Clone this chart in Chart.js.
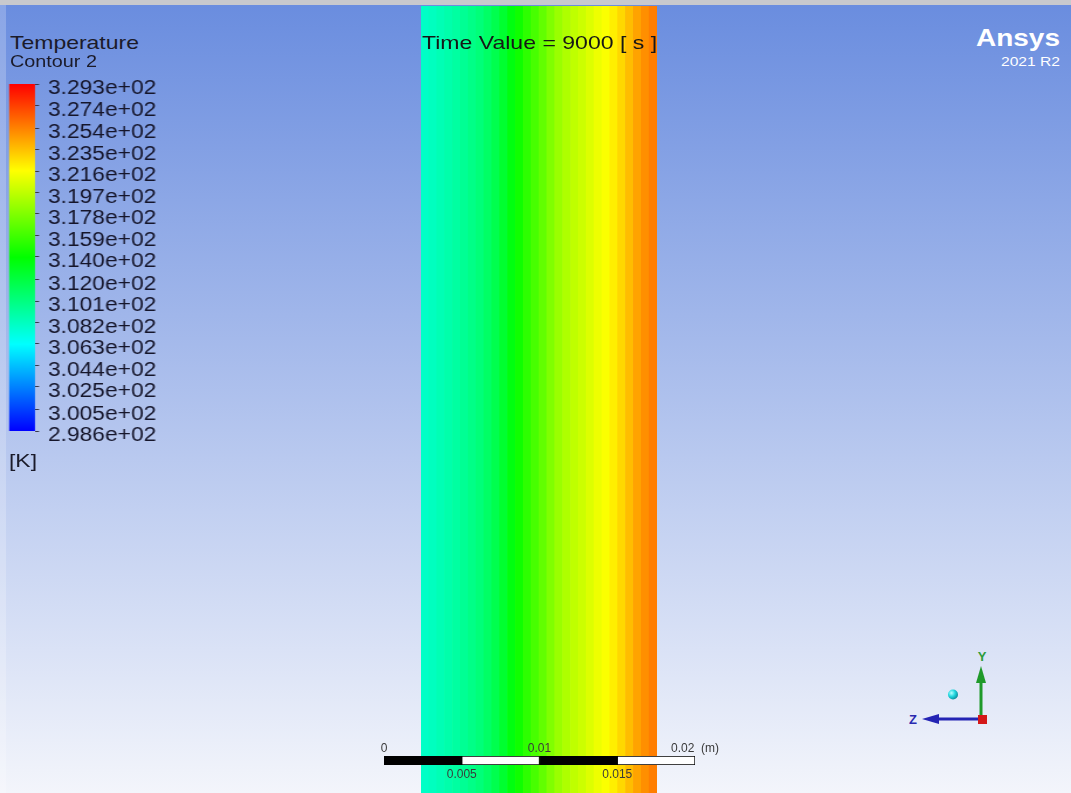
<!DOCTYPE html>
<html>
<head>
<meta charset="utf-8">
<script src="https://cdn.jsdelivr.net/npm/chart.js@4.4.1/dist/chart.umd.min.js"></script>
<style>
  html, body { margin: 0; padding: 0; }
  body {
    width: 1071px; height: 793px; overflow: hidden; position: relative;
    background: linear-gradient(to bottom, #c8c9cd 0, #c8c9cd 5px, #6a8ddf 5px, #f3f5fb 100%);
    font-family: 'Liberation Sans', Arial, sans-serif;
  }
  .abs { position: absolute; }
  #edge { left: 0; top: 5px; width: 6px; height: 788px; background: rgba(255,255,255,0.22); }
  .txt { position: absolute; white-space: nowrap; line-height: 1; transform-origin: 0 0; }
</style>
</head>
<body>
<div id="edge" class="abs"></div>

<canvas id="band" class="abs" width="236" height="787" style="left:421px;top:6px"></canvas>
<canvas id="legend" class="abs" width="150" height="400" style="left:0;top:60px;transform-origin:0 0;transform:scaleX(1.17)"></canvas>
<canvas id="ruler" class="abs" width="380" height="55" style="left:364px;top:735px"></canvas>

<div class="txt" data-w="129" style="left:10px;top:33.4px;font-size:19px;color:#1b1b2a">Temperature</div>
<div class="txt" data-w="87" style="left:10px;top:52.6px;font-size:17px;color:#1b1b2a">Contour 2</div>
<div class="txt" data-w="28" style="left:9px;top:451px;font-size:19px;color:#1b1b2a">[K]</div>
<div class="txt" data-w="235" style="left:422px;top:32.9px;font-size:19px;color:#161616">Time Value = 9000 [ s ]</div>
<div class="txt" data-w="84" style="left:976px;top:25.7px;font-size:24px;font-weight:bold;color:#ffffff">Ansys</div>
<div class="txt" data-w="59" style="left:1001px;top:54.6px;font-size:13.5px;color:#ffffff">2021 R2</div>

<svg class="abs" style="left:900px;top:640px" width="100" height="100" viewBox="900 640 100 100">
  <defs>
    <radialGradient id="sph" cx="0.35" cy="0.35" r="0.7">
      <stop offset="0" stop-color="#b8ffff"/>
      <stop offset="0.5" stop-color="#22d8e0"/>
      <stop offset="1" stop-color="#0a8a9a"/>
    </radialGradient>
  </defs>
  <line x1="981" y1="719" x2="981" y2="682" stroke="#1f9a2a" stroke-width="3"/>
  <polygon points="976,683 986,683 981,666" fill="#1f9a2a"/>
  <text x="982" y="661" fill="#2d9c3a" font-size="13" font-weight="bold" text-anchor="middle" font-family="Liberation Sans, Arial, sans-serif">Y</text>
  <line x1="981" y1="719" x2="938" y2="719" stroke="#2424b4" stroke-width="3"/>
  <polygon points="939,714 939,724 922,719" fill="#2424b4"/>
  <text x="913" y="724" fill="#2a2ab0" font-size="13" font-weight="bold" text-anchor="middle" font-family="Liberation Sans, Arial, sans-serif">Z</text>
  <rect x="978" y="715" width="9" height="9" fill="#d41818"/>
  <circle cx="953" cy="694.5" r="5" fill="url(#sph)"/>
</svg>

<script>
// Strip centres across the wall thickness (mm) and the temperature read at each one (K)
const POSITIONS_MM = [0.25, 0.75, 1.25, 1.75, 2.25, 2.75, 3.25, 3.75, 4.25, 4.75,
                      5.25, 5.75, 6.25, 6.75, 7.25, 7.75, 8.25, 8.75, 9.25, 9.75,
                      10.25, 10.75, 11.25, 11.75, 12.25, 12.75, 13.25, 13.75, 14.25, 14.75];
const TEMPERATURES_K = [308.0, 308.2, 308.5, 308.8, 309.1, 309.5, 309.9, 310.3, 310.9, 311.6,
                        312.5, 313.5, 314.4, 315.3, 316.1, 316.9, 317.8, 318.6, 319.2, 319.7,
                        320.1, 320.6, 321.1, 321.5, 322.1, 322.8, 323.6, 324.4, 325.0, 325.5];

// Colour legend levels (K), top to bottom
const LEGEND_TICKS_K = [329.3, 327.4, 325.4, 323.5, 321.6, 319.7, 317.8, 315.9, 314.0,
                        312.0, 310.1, 308.2, 306.3, 304.4, 302.5, 300.5, 298.6];
const T_MAX = LEGEND_TICKS_K[0];
const T_MIN = LEGEND_TICKS_K[LEGEND_TICKS_K.length - 1];

// Length ruler (m)
const RULER_TICKS_TOP = [0, 0.01, 0.02];
const RULER_TICKS_BOTTOM = [0.005, 0.015];
const RULER_UNIT = '(m)';
const RULER_SEGMENTS = [[0, 0.005], [0.005, 0.01], [0.01, 0.015], [0.015, 0.02]];
const RULER_FILLS = ['#000000', '#ffffff', '#000000', '#ffffff'];

Chart.defaults.font.family = "'Liberation Sans', Arial, sans-serif";

// Blue -> cyan -> green -> yellow -> red
function rainbow(f) {
  f = Math.max(0, Math.min(1, f));
  let r, g, b;
  if (f < 0.25)      { r = 0;   g = 255 * f / 0.25;              b = 255; }
  else if (f < 0.5)  { r = 0;   g = 255; b = 255 * (1 - (f - 0.25) / 0.25); }
  else if (f < 0.75) { r = 255 * (f - 0.5) / 0.25; g = 255; b = 0; }
  else               { r = 255; g = 255 * (1 - (f - 0.75) / 0.25); b = 0; }
  return `rgb(${Math.round(r)},${Math.round(g)},${Math.round(b)})`;
}
const colourOf = t => rainbow((t - T_MIN) / (T_MAX - T_MIN));

function sci(v) {
  const e = Math.floor(Math.log10(v));
  const s = String(Math.round(v * Math.pow(10, 3 - e)));
  return s[0] + '.' + s.slice(1) + 'e+' + String(e).padStart(2, '0');
}

const quiet = {
  responsive: false, animation: false, events: [],
  plugins: { legend: { display: false }, tooltip: { enabled: false } }
};

// Temperature contour across the wall
new Chart(document.getElementById('band'), {
  type: 'bar',
  data: {
    labels: POSITIONS_MM,
    datasets: [{
      data: TEMPERATURES_K.map(() => [0, 1]),
      backgroundColor: TEMPERATURES_K.map(colourOf),
      borderWidth: 0,
      barPercentage: 1,
      categoryPercentage: 1
    }]
  },
  options: {
    ...quiet,
    layout: { padding: 0 },
    scales: {
      x: { display: false },
      y: { display: false, min: 0, max: 1 }
    }
  }
});

// Colour legend
const LEGEND_W = 150, BAR_RIGHT = 29.9;
new Chart(document.getElementById('legend'), {
  type: 'bar',
  data: {
    labels: ['T'],
    datasets: [{
      data: [[T_MIN, T_MAX]],
      borderWidth: 0,
      barPercentage: 1,
      categoryPercentage: 1,
      backgroundColor: ctx => {
        const chart = ctx.chart;
        if (!chart.chartArea) return '#888';
        const y = chart.scales.y;
        const g = chart.ctx.createLinearGradient(0, y.getPixelForValue(T_MIN), 0, y.getPixelForValue(T_MAX));
        [0, 0.25, 0.5, 0.75, 1].forEach(f => g.addColorStop(f, rainbow(f)));
        return g;
      }
    }]
  },
  options: {
    ...quiet,
    layout: { padding: { left: 7.7, right: 0, top: 24, bottom: 29 } },
    scales: {
      x: { display: false },
      y: {
        position: 'right', min: T_MIN, max: T_MAX,
        afterBuildTicks: s => { s.ticks = LEGEND_TICKS_K.map(v => ({ value: v })); },
        afterFit: s => { s.width = LEGEND_W - BAR_RIGHT; },
        grid: { drawOnChartArea: false, drawTicks: true, tickLength: 3.5, color: '#3a3a4a' },
        border: { display: false },
        ticks: { autoSkip: false, padding: 7.5, labelOffset: 5, color: '#15152a',
                 font: { size: 19.5, lineHeight: 1 }, callback: v => sci(v) }
      }
    }
  }
});

// Length ruler
const rulerTick = { autoSkip: false, maxRotation: 0, color: '#3a3a3a', font: { size: 12 } };
new Chart(document.getElementById('ruler'), {
  type: 'bar',
  data: {
    labels: [''],
    datasets: RULER_SEGMENTS.map((seg, i) => ({
      data: [seg],
      backgroundColor: RULER_FILLS[i],
      borderColor: '#000000',
      borderWidth: 1,
      borderSkipped: false,
      grouped: false,
      barPercentage: 1,
      categoryPercentage: 1
    }))
  },
  options: {
    ...quiet,
    indexAxis: 'y',
    layout: { padding: { left: 20, right: 49, top: 0, bottom: 0 } },
    scales: {
      y: { display: false },
      x: {
        position: 'top', min: 0, max: 0.02,
        afterBuildTicks: s => { s.ticks = RULER_TICKS_TOP.map(v => ({ value: v })); },
        afterFit: s => { s.height = 21; },
        grid: { display: false, drawTicks: false }, border: { display: false },
        ticks: { ...rulerTick, padding: 0,
          callback: (v, i, arr) => i === arr.length - 1 ? `${v}  ${RULER_UNIT}` : String(v) }
      },
      x2: {
        axis: 'x', type: 'linear', position: 'bottom', min: 0, max: 0.02,
        afterBuildTicks: s => { s.ticks = RULER_TICKS_BOTTOM.map(v => ({ value: v })); },
        afterFit: s => { s.height = 25; },
        grid: { display: false, drawTicks: false }, border: { display: false },
        ticks: { ...rulerTick, padding: 2, callback: v => String(v) }
      }
    }
  }
});

// Wide lettering of the viewer annotations
document.querySelectorAll('.txt').forEach(el => {
  const w = el.getBoundingClientRect().width;
  el.style.transform = `scaleX(${(+el.dataset.w / w).toFixed(3)})`;
});
</script>
</body>
</html>
